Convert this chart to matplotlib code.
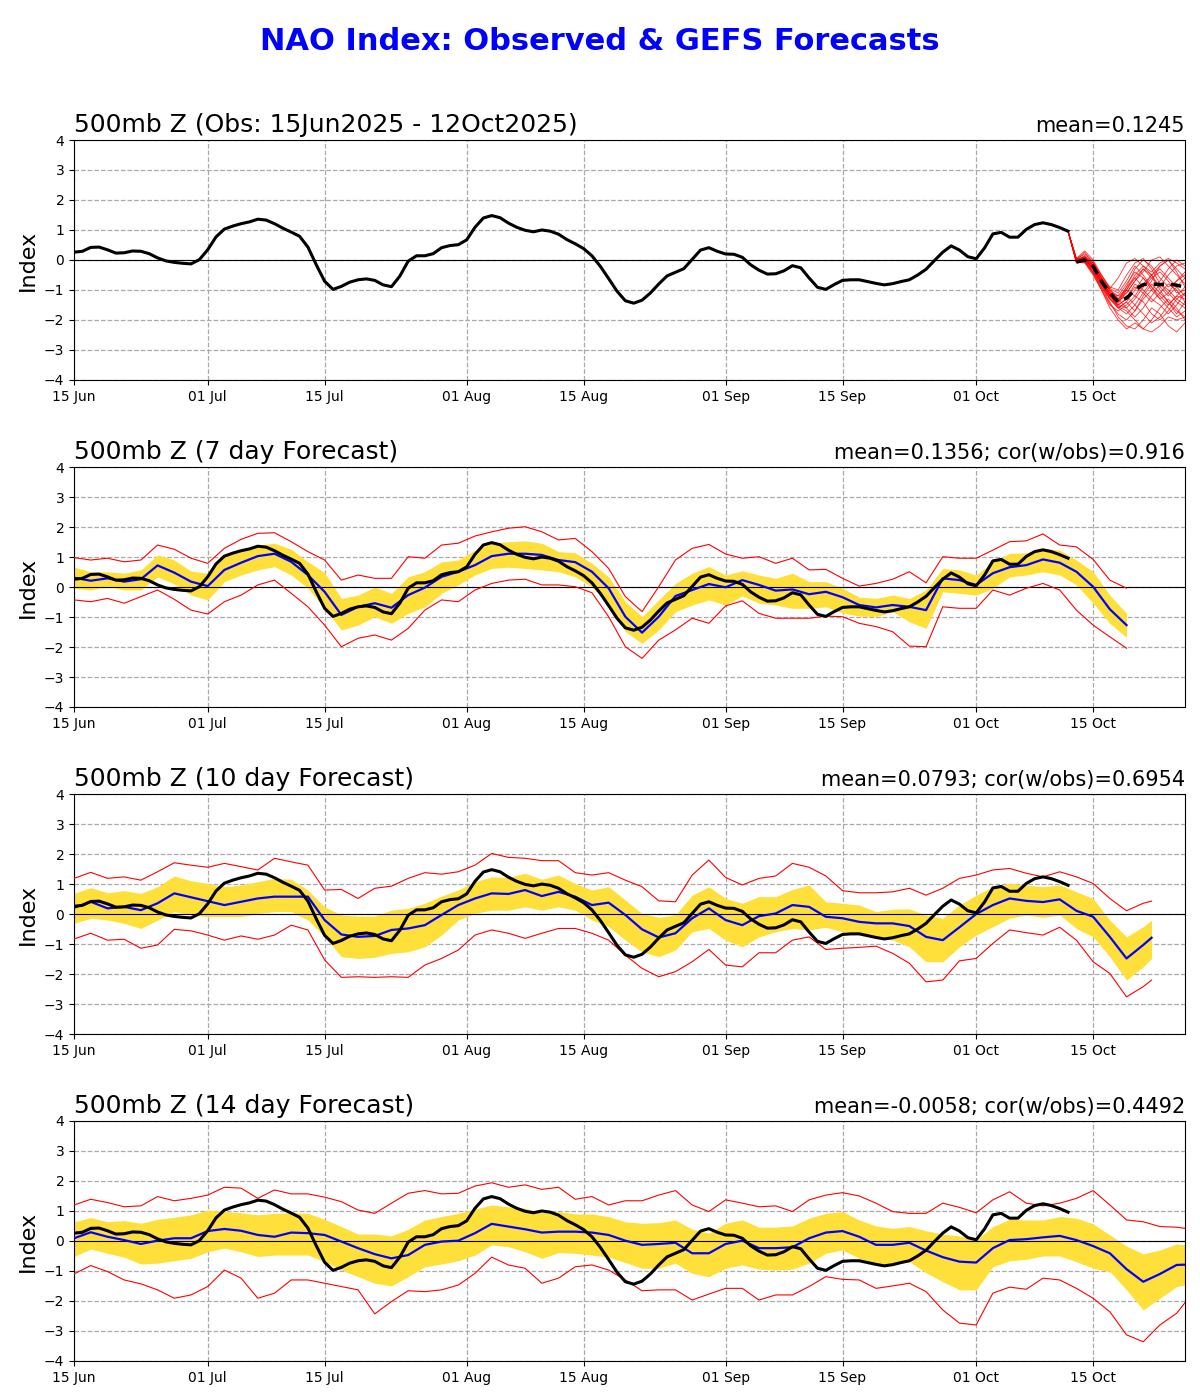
import numpy as np
import matplotlib
matplotlib.use("Agg")
import matplotlib.pyplot as plt
import matplotlib.dates as mdates

# ---- data ----
start = np.datetime64("2025-06-15")

# observed NAO index, daily 15 Jun .. 12 Oct
obs = [
    0.26, 0.29, 0.42, 0.43, 0.34, 0.23, 0.24, 0.30, 0.29, 0.21,
    0.07, -0.03, -0.08, -0.11, -0.13, 0.01, 0.34, 0.77, 1.03, 1.13,
    1.21, 1.27, 1.36, 1.33, 1.21, 1.06, 0.93, 0.79, 0.43, -0.16,
    -0.71, -0.98, -0.88, -0.74, -0.66, -0.63, -0.68, -0.83, -0.89, -0.54,
    -0.04, 0.14, 0.14, 0.21, 0.41, 0.48, 0.51, 0.67, 1.09, 1.40,
    1.48, 1.41, 1.23, 1.09, 0.99, 0.94, 1.00, 0.96, 0.86, 0.68,
    0.54, 0.38, 0.14, -0.21, -0.62, -1.04, -1.36, -1.44, -1.34, -1.10,
    -0.80, -0.53, -0.41, -0.29, 0.02, 0.33, 0.41, 0.29, 0.20, 0.19,
    0.09, -0.16, -0.34, -0.47, -0.46, -0.36, -0.19, -0.26, -0.60, -0.91,
    -0.98, -0.82, -0.68, -0.66, -0.66, -0.72, -0.78, -0.83, -0.79, -0.72,
    -0.66, -0.50, -0.31, -0.02, 0.26, 0.47, 0.33, 0.11, 0.04, 0.40,
    0.87, 0.92, 0.76, 0.76, 1.02, 1.18, 1.24, 1.18, 1.08, 0.96,
]

# GEFS members from 12 Oct to 26 Oct (daily)
mem_days = list(range(119, 134))
members = [
    [0.96, -0.05, 0.05, -0.3, -0.8, -1.2, -1.5, -1.6, -1.3, -0.9, -0.5, -0.3, -0.6, -0.9, -1.2],
    [0.96, 0.00, 0.10, -0.2, -0.7, -1.1, -1.4, -0.9, -0.3, 0.0, -0.2, -0.6, -0.9, -0.7, -0.4],
    [0.96, -0.10, -0.05, -0.4, -0.9, -1.4, -1.9, -2.2, -2.3, -2.0, -1.6, -1.8, -2.2, -2.4, -2.1],
    [0.96, 0.05, 0.30, 0.0, -0.5, -0.9, -1.0, -0.5, -0.1, 0.05, -0.3, -0.8, -1.1, -1.4, -1.6],
    [0.96, -0.05, 0.00, -0.3, -0.8, -1.3, -1.6, -1.8, -1.5, -1.1, -0.7, -0.2, 0.0, -0.3, -0.6],
    [0.96, -0.02, 0.15, -0.1, -0.6, -1.0, -1.3, -1.0, -0.6, -0.3, -0.5, -1.0, -1.4, -1.7, -1.9],
    [0.96, -0.08, -0.10, -0.5, -1.0, -1.5, -1.7, -1.5, -1.2, -1.4, -1.8, -2.0, -1.7, -1.3, -1.1],
    [0.96, 0.02, 0.05, -0.2, -0.7, -1.1, -1.2, -0.8, -0.4, -0.6, -1.0, -0.7, -0.3, 0.0, -0.2],
    [0.96, -0.04, -0.02, -0.35, -0.9, -1.3, -1.5, -1.3, -0.9, -1.1, -1.4, -1.1, -0.8, -1.0, -1.4],
    [0.96, 0.00, 0.08, -0.15, -0.6, -1.0, -1.3, -1.6, -1.9, -1.6, -1.2, -0.8, -1.0, -1.3, -1.5],
    [0.96, -0.06, 0.02, -0.25, -0.75, -1.2, -1.4, -1.1, -0.7, -0.4, 0.0, 0.1, -0.2, -0.5, -0.8],
    [0.96, 0.03, 0.20, -0.05, -0.55, -0.95, -1.1, -0.7, -0.2, -0.5, -0.9, -1.3, -1.1, -0.7, -0.5],
    [0.96, -0.07, -0.03, -0.4, -0.85, -1.3, -1.6, -1.4, -1.0, -0.6, -0.9, -1.2, -1.5, -1.2, -0.9],
    [0.96, -0.01, 0.12, -0.15, -0.65, -1.05, -1.35, -1.2, -1.5, -1.8, -2.1, -1.9, -1.5, -1.2, -1.3],
    [0.96, -0.03, 0.06, -0.25, -0.7, -1.15, -1.45, -1.0, -0.5, -0.2, -0.4, -0.1, 0.05, -0.1, -0.3],
    [0.96, -0.09, -0.08, -0.45, -0.95, -1.45, -1.8, -2.0, -1.7, -1.3, -1.0, -1.3, -1.6, -1.9, -1.7],
    [0.96, 0.01, 0.04, -0.2, -0.7, -1.1, -1.3, -0.9, -0.6, -0.9, -0.6, -0.4, -0.7, -1.1, -1.0],
    [0.96, -0.05, 0.00, -0.3, -0.8, -1.25, -1.55, -1.7, -2.0, -2.3, -2.0, -1.6, -1.3, -1.6, -2.0],
    [0.96, 0.04, 0.10, -0.1, -0.6, -1.0, -1.2, -1.0, -1.2, -0.8, -0.5, -0.9, -1.2, -0.9, -0.6],
    [0.96, -0.02, 0.03, -0.3, -0.75, -1.2, -1.5, -1.3, -0.8, -1.0, -1.3, -1.5, -1.8, -1.5, -1.1],
    [0.96, 0.02, 0.25, -0.1, -0.5, -0.95, -0.6, -0.1, 0.05, -0.2, -0.5, -0.2, 0.0, -0.4, -0.9],
    [0.96, -0.06, -0.04, -0.45, -1.0, -1.6, -2.0, -2.3, -2.1, -2.3, -2.4, -2.2, -1.9, -2.0, -1.9],
    [0.96, 0.00, 0.05, -0.3, -0.7, -1.2, -1.3, -1.1, -0.7, -0.3, -0.6, -0.9, -0.5, -0.2, -0.1],
    [0.96, -0.03, 0.08, -0.2, -0.75, -1.15, -1.6, -1.4, -1.7, -1.2, -0.8, -1.1, -1.4, -1.8, -1.4],
]
ens_days = list(range(120, 134))
ens_mean = [-0.07, 0.0, -0.21, -0.71, -1.10, -1.40, -1.27, -0.99, -0.82, -0.80, -0.82, -0.80, -0.84, -0.91]

# 7 day forecast (every 2nd day, 15 Jun .. 19 Oct)
f7_days = list(range(0, 127, 2))
f7_mean = [0.31, 0.21, 0.29, 0.18, 0.26, 0.72, 0.48, 0.18, 0.03, 0.57, 0.81, 1.03, 1.11, 0.84, 0.40, -0.16,
           -0.93, -0.66, -0.54, -0.69, -0.27, -0.02, 0.34,
           0.51, 0.73, 1.03, 1.11, 1.11, 1.07, 0.90, 0.83, 0.51, -0.04, -0.99, -1.52, -0.99, -0.30, -0.10,
           0.10, -0.01, 0.23, 0.07, -0.12, -0.08, -0.24,
           -0.16, -0.34, -0.60, -0.68, -0.60, -0.66, -0.77, 0.29, 0.23, 0.07, 0.46, 0.66, 0.73, 0.92,
           0.81, 0.51, 0.01, -0.74, -1.27]
f7_hi = [0.66, 0.51, 0.51, 0.46, 0.57, 1.07, 0.90, 0.53, 0.46, 1.01, 1.26, 1.40, 1.46, 1.26, 0.84, 0.48,
         -0.38, -0.27, 0.00, -0.21, 0.34, 0.51, 0.84,
         0.90, 1.23, 1.46, 1.51, 1.54, 1.46, 1.18, 1.14, 0.79, 0.34, -0.49, -0.99, -0.43, 0.12, 0.46,
         0.68, 0.40, 0.54, 0.40, 0.29, 0.46, 0.18,
         0.18, -0.04, -0.34, -0.38, -0.27, -0.38, -0.10, 0.62, 0.57, 0.40, 0.84, 1.12, 1.14, 1.29,
         1.23, 0.90, 0.51, -0.27, -0.88]
f7_lo = [-0.04, -0.10, 0.03, -0.10, -0.10, 0.34, 0.10, -0.27, -0.43, 0.18, 0.40, 0.57, 0.68, 0.40, -0.04,
         -0.71, -1.43, -1.27, -0.99, -1.21, -0.88, -0.66, -0.21,
         0.07, 0.40, 0.62, 0.66, 0.62, 0.57, 0.51, 0.34, 0.00, -0.60, -1.49, -1.88, -1.43, -0.82, -0.60,
         -0.43, -0.60, -0.30, -0.54, -0.60, -0.71, -0.71,
         -0.66, -0.86, -0.97, -0.99, -0.82, -1.16, -1.38, -0.16, -0.21, -0.27, -0.04, 0.34, 0.40, 0.51,
         0.40, 0.07, -0.54, -1.21, -1.68]
f7_max = [0.98, 0.90, 0.96, 0.84, 0.90, 1.40, 1.26, 0.96, 0.79, 1.29, 1.59, 1.79, 1.81, 1.51, 1.18, 0.90,
          0.23, 0.40, 0.29, 0.29, 1.01, 0.96, 1.40,
          1.46, 1.70, 1.84, 1.96, 2.01, 1.84, 1.57, 1.62, 1.18, 0.62, -0.32, -0.82, 0.01, 0.90, 1.29,
          1.42, 1.10, 0.96, 1.01, 0.79, 0.96, 0.57,
          0.59, 0.29, 0.03, 0.12, 0.26, 0.51, 0.14, 1.01, 0.96, 0.96, 1.23, 1.51, 1.54, 1.77,
          1.40, 1.34, 0.92, 0.23, -0.04]
f7_min = [-0.43, -0.49, -0.38, -0.54, -0.32, -0.10, -0.41, -0.77, -0.90, -0.49, -0.27, 0.07, 0.23, -0.21,
          -0.66, -1.27, -1.99, -1.71, -1.60, -1.77, -1.38, -0.77, -0.43,
          -0.49, -0.10, 0.12, 0.23, 0.26, 0.07, 0.07, 0.01, -0.19, -0.99, -1.99, -2.38, -1.77, -1.43, -1.04,
          -1.21, -0.63, -0.46, -0.88, -1.04, -1.04, -1.04,
          -0.97, -0.99, -1.21, -1.32, -1.49, -1.97, -1.99, -0.66, -0.71, -0.71, -0.10, -0.27, -0.04, 0.12,
          -0.10, -0.77, -1.27, -1.66, -2.04]

# 10 day forecast (every 2nd day, 15 Jun .. 22 Oct)
f10_days = list(range(0, 129, 2)) + [129]
f10_mean = [0.21, 0.41, 0.19, 0.24, 0.13, 0.36, 0.69, 0.56, 0.43, 0.30, 0.41, 0.52, 0.58, 0.58, 0.58, -0.20,
            -0.68, -0.76, -0.73, -0.53, -0.48, -0.37, -0.03,
            0.30, 0.52, 0.69, 0.67, 0.80, 0.60, 0.74, 0.58, 0.30, 0.38, -0.03, -0.51, -0.78, -0.64, -0.14,
            0.19, -0.20, -0.37, -0.07, 0.02, 0.30, 0.24,
            -0.09, -0.14, -0.26, -0.31, -0.31, -0.40, -0.76, -0.87, -0.44, 0.00, 0.30, 0.52, 0.44, 0.40,
            0.49, 0.11, -0.09, -0.76, -1.48, -1.03, -0.79]
f10_hi = [0.69, 0.88, 0.71, 0.78, 0.69, 0.91, 1.27, 1.11, 1.02, 0.91, 0.97, 1.08, 1.19, 1.16, 0.80, 0.24,
          -0.03, -0.07, -0.07, 0.13, 0.19, 0.36, 0.60,
          0.80, 1.08, 1.24, 1.22, 1.36, 1.16, 1.30, 1.02, 0.80, 0.91, 0.47, 0.02, -0.11, -0.03, 0.63,
          0.91, 0.52, 0.36, 0.58, 0.58, 0.82, 0.97,
          0.41, 0.36, 0.30, 0.08, 0.16, 0.17, -0.03, -0.14, 0.30, 0.63, 0.91, 1.02, 0.97, 0.91,
          0.97, 0.74, 0.52, -0.20, -0.76, -0.42, -0.20]
f10_lo = [-0.31, -0.14, -0.20, -0.31, -0.48, -0.20, 0.08, -0.03, -0.09, -0.09, -0.09, 0.02, 0.08, 0.08,
          -0.20, -0.76, -1.42, -1.48, -1.44, -1.31, -1.26, -1.09, -0.70,
          -0.20, 0.02, 0.13, 0.13, 0.24, 0.13, 0.24, 0.13, -0.20, -0.42, -0.87, -1.26, -1.42, -1.20, -0.59,
          -0.48, -0.87, -1.09, -0.76, -0.59, -0.48, -0.53,
          -0.44, -0.59, -0.62, -0.76, -0.87, -1.09, -1.59, -1.59, -1.09, -0.70, -0.42, -0.14, -0.03, -0.11,
          -0.03, -0.48, -0.76, -1.42, -2.20, -1.76, -1.48]
f10_max = [1.19, 1.39, 1.19, 1.24, 1.13, 1.41, 1.71, 1.63, 1.56, 1.69, 1.58, 1.47, 1.86, 1.74, 1.63, 0.80,
           0.82, 0.52, 0.86, 0.93, 1.19, 1.38, 1.33,
           1.41, 1.63, 2.02, 1.89, 1.86, 1.78, 1.78, 1.38, 1.30, 1.38, 1.13, 0.91, 0.44, 0.41, 1.30,
           1.80, 1.22, 0.97, 1.19, 1.27, 1.69, 1.56,
           1.27, 0.78, 0.71, 0.71, 0.74, 0.86, 0.63, 0.86, 1.19, 1.30, 1.47, 1.52, 1.36, 1.24,
           1.41, 1.24, 1.02, 0.52, 0.11, 0.36, 0.43]
f10_min = [-0.83, -0.64, -0.87, -0.84, -1.14, -1.03, -0.51, -0.56, -0.70, -0.87, -0.73, -0.84, -0.70,
           -0.37, -0.53, -1.53, -2.11, -2.09, -2.11, -2.09, -2.11, -1.70, -1.48,
           -1.20, -0.70, -0.53, -0.64, -0.81, -0.64, -0.48, -0.48, -0.64, -0.87, -1.37, -1.81, -2.09, -1.92,
           -1.59, -1.18, -1.70, -1.76, -1.29, -1.29, -0.87, -0.76,
           -1.18, -1.14, -1.11, -1.07, -1.31, -1.64, -2.26, -2.20, -1.56, -1.48, -0.98, -0.53, -0.62, -0.70,
           -0.44, -0.87, -1.59, -1.98, -2.76, -2.42, -2.20]

# 14 day forecast (every 2nd day, 15 Jun .. 26 Oct)
f14_days = list(range(0, 133, 2)) + [133]
f14_mean = [0.09, 0.29, 0.14, 0.03, -0.10, 0.01, 0.09, 0.09, 0.33, 0.40, 0.34, 0.20, 0.14, 0.28, 0.26,
            0.20, -0.02, -0.24, -0.44, -0.58, -0.47, -0.13, -0.02,
            0.01, 0.26, 0.57, 0.48, 0.39, 0.28, 0.31, 0.31, 0.28, 0.20, 0.01, -0.13, -0.10, -0.06, -0.41,
            -0.41, -0.10, 0.01, -0.24, -0.24, -0.21, 0.09,
            0.28, 0.33, 0.14, -0.13, -0.13, -0.06, -0.32, -0.54, -0.69, -0.72, -0.24, 0.03, 0.06, 0.12,
            0.17, 0.03, -0.17, -0.41, -0.94, -1.36, -1.10, -0.80, -0.79]
f14_hi = [0.64, 0.78, 0.64, 0.68, 0.59, 0.72, 0.79, 0.87, 1.03, 0.98, 0.94, 0.87, 0.92, 0.94, 0.92, 0.72,
          0.48, 0.23, 0.23, 0.17, 0.39, 0.70, 0.81,
          0.92, 1.06, 1.20, 1.14, 1.09, 0.94, 0.98, 0.90, 0.90, 0.81, 0.64, 0.59, 0.61, 0.70, 0.39,
          0.26, 0.59, 0.70, 0.46, 0.46, 0.50, 0.76,
          0.92, 0.98, 0.70, 0.50, 0.42, 0.48, 0.34, 0.23, 0.17, 0.03, 0.48, 0.72, 0.70, 0.70,
          0.81, 0.76, 0.57, 0.20, -0.17, -0.43, -0.30, -0.10, -0.13]
f14_lo = [-0.52, -0.27, -0.41, -0.54, -0.77, -0.74, -0.66, -0.58, -0.36, -0.24, -0.36, -0.52, -0.47,
          -0.47, -0.47, -0.69, -0.97, -1.19, -1.41, -1.50, -1.19, -0.86, -0.77,
          -0.66, -0.47, -0.13, -0.19, -0.36, -0.58, -0.39, -0.41, -0.47, -0.54, -0.72, -0.91, -0.91, -0.74,
          -1.08, -1.19, -0.91, -0.80, -0.94, -0.97, -0.94, -0.74,
          -0.41, -0.30, -0.58, -0.74, -0.80, -0.69, -1.06, -1.36, -1.63, -1.63, -0.86, -0.66, -0.61, -0.50,
          -0.50, -0.69, -0.91, -1.02, -1.63, -2.30, -1.91, -1.52, -1.47]
f14_max = [1.20, 1.39, 1.28, 1.14, 1.17, 1.48, 1.34, 1.42, 1.53, 1.79, 1.76, 1.42, 1.70, 1.57, 1.57,
           1.46, 1.31, 1.03, 0.92, 1.26, 1.59, 1.68, 1.57,
           1.59, 1.83, 1.94, 1.79, 1.87, 1.72, 1.79, 1.39, 1.48, 1.20, 1.34, 1.34, 1.53, 1.68, 1.20,
           0.98, 1.37, 1.26, 1.14, 1.17, 0.98, 1.37,
           1.53, 1.61, 1.50, 1.26, 0.98, 0.92, 0.92, 1.26, 1.12, 0.94, 1.37, 1.64, 1.26, 1.17,
           1.26, 1.42, 1.68, 1.20, 0.70, 0.64, 0.48, 0.46, 0.42]
f14_min = [-1.10, -0.82, -1.02, -1.30, -1.43, -1.63, -1.91, -1.80, -1.52, -0.97, -1.24, -1.91, -1.74,
           -1.30, -1.30, -1.41, -1.52, -1.63, -2.43, -2.02, -1.66, -1.69, -1.63,
           -1.47, -1.08, -0.54, -0.80, -0.91, -1.41, -1.24, -0.86, -0.80, -0.97, -1.30, -1.66, -1.63, -1.63,
           -1.97, -1.77, -1.58, -1.58, -1.97, -1.80, -1.80, -1.52,
           -1.19, -1.28, -1.30, -1.58, -1.50, -1.41, -1.69, -2.30, -2.74, -2.80, -1.74, -1.54, -1.61, -1.24,
           -1.30, -1.58, -1.91, -2.36, -3.13, -3.36, -2.80, -2.41, -2.06]

panels = [
    ("500mb Z (7 day Forecast)", "mean=0.1356; cor(w/obs)=0.916",
     f7_days, f7_mean, f7_hi, f7_lo, f7_max, f7_min),
    ("500mb Z (10 day Forecast)", "mean=0.0793; cor(w/obs)=0.6954",
     f10_days, f10_mean, f10_hi, f10_lo, f10_max, f10_min),
    ("500mb Z (14 day Forecast)", "mean=-0.0058; cor(w/obs)=0.4492",
     f14_days, f14_mean, f14_hi, f14_lo, f14_max, f14_min),
]


def dates(days):
    return start + np.array(days).astype("timedelta64[D]")


obs_dates = dates(range(len(obs)))
xticks = dates([0, 16, 30, 47, 61, 78, 92, 108, 122])


def setup(ax, left, right):
    ax.set_xlim(dates([0])[0], dates([133])[0])
    ax.set_ylim(-4, 4)
    ax.set_yticks(range(-4, 5))
    ax.set_xticks(xticks)
    ax.xaxis.set_major_formatter(mdates.DateFormatter("%d %b"))
    ax.tick_params(labelsize=10)
    ax.grid(True, linestyle="--", color="#aaaaaa", lw=0.9)
    ax.set_axisbelow(True)
    ax.axhline(0, color="k", lw=0.8, zorder=2.5)
    ax.set_ylabel("Index", fontsize=16)
    ax.set_title(left, loc="left", fontsize=18)
    ax.set_title(right, loc="right", fontsize=15)


fig = plt.figure(figsize=(12, 14), dpi=100)
fig.text(0.5, 0.97, "NAO Index: Observed & GEFS Forecasts", ha="center", va="center",
         color="blue", fontsize=22, fontweight="bold")

bottoms = [0.7286, 0.495, 0.2614, 0.0279]
axes = [fig.add_axes([0.0617, b, 0.9258, 0.1714]) for b in bottoms]

# observed + ensemble spaghetti
ax = axes[0]
setup(ax, "500mb Z (Obs: 15Jun2025 - 12Oct2025)", "mean=0.1245")
for m in members:
    ax.plot(dates(mem_days), m, color="red", lw=0.6, alpha=0.8, zorder=2)
ax.plot(obs_dates, obs, color="black", lw=2.2, zorder=3)
ax.plot(dates(ens_days), ens_mean, color="black", lw=2.5, ls=(0, (3, 2)), zorder=4)

# forecast verification panels
for ax, (left, right, d, mean, hi, lo, mx, mn) in zip(axes[1:], panels):
    setup(ax, left, right)
    ax.fill_between(dates(d), lo, hi, color="#ffdf3a", lw=0, zorder=2)
    ax.plot(dates(d), mx, color="red", lw=0.8, zorder=3)
    ax.plot(dates(d), mn, color="red", lw=0.8, zorder=3)
    ax.plot(dates(d), mean, color="blue", lw=1.6, zorder=4)
    ax.plot(obs_dates, obs, color="black", lw=2.2, zorder=5)

fig.savefig("out.png", dpi=100)
